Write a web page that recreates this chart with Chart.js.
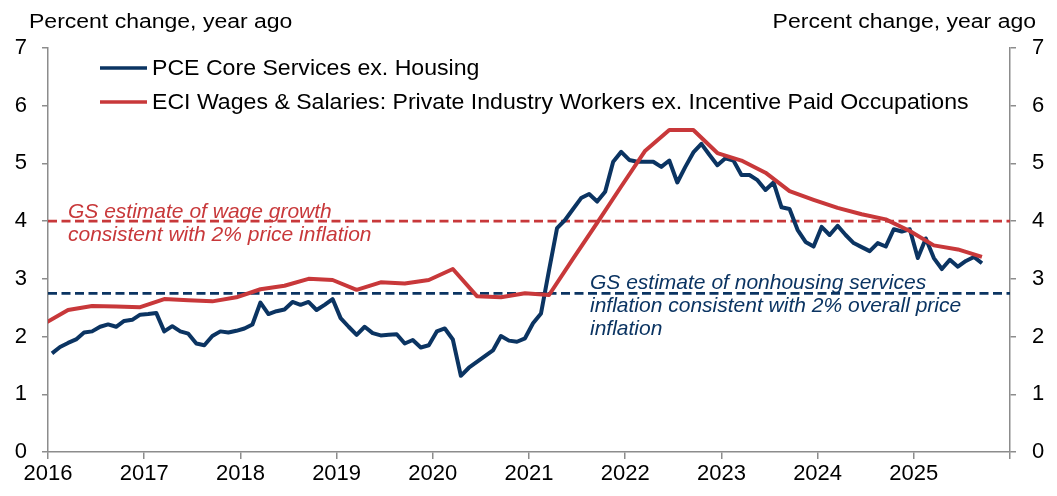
<!DOCTYPE html>
<html>
<head>
<meta charset="utf-8">
<script src="https://cdn.jsdelivr.net/npm/chart.js@4.4.1/dist/chart.umd.min.js"></script>
<style>
    html, body { margin: 0; padding: 0; background: #fff; }
    #wrap { width: 1057px; height: 496px; position: relative; }
</style>
</head>
<body>
<div id="wrap"><canvas id="inflationChart"></canvas></div>
<script>
// ===== DATOS =====
const startYear = 2016;
const yearTicks = [2016, 2017, 2018, 2019, 2020, 2021, 2022, 2023, 2024, 2025];

// PCE core services ex. housing, % yoy, monthly from Jan 2016
const pceCoreServices = [
    1.71, 1.82, 1.89, 1.95, 2.07, 2.09, 2.17, 2.21, 2.17, 2.27, 2.29, 2.38,
    2.39, 2.41, 2.09, 2.18, 2.09, 2.05, 1.88, 1.85, 2.01, 2.09, 2.07, 2.10,
    2.14, 2.21, 2.59, 2.39, 2.44, 2.47, 2.60, 2.55, 2.60, 2.46, 2.55, 2.65,
    2.32, 2.17, 2.03, 2.17, 2.06, 2.02, 2.03, 2.04, 1.88, 1.94, 1.81, 1.85,
    2.09, 2.14, 1.95, 1.32, 1.46, 1.56, 1.66, 1.76, 2.01, 1.93, 1.91, 1.97,
    2.23, 2.40, 3.15, 3.88, 4.02, 4.21, 4.40, 4.47, 4.34, 4.51, 5.03, 5.20,
    5.06, 5.03, 5.03, 5.03, 4.94, 5.05, 4.67, 4.94, 5.19, 5.34, 5.15, 4.97,
    5.09, 5.05, 4.80, 4.80, 4.71, 4.54, 4.67, 4.24, 4.21, 3.85, 3.64, 3.56,
    3.90, 3.76, 3.92, 3.76, 3.62, 3.55, 3.48, 3.62, 3.56, 3.86, 3.82, 3.86,
    3.36, 3.70, 3.36, 3.17, 3.33, 3.21, 3.31, 3.38, 3.27
];

// ECI wages & salaries, private ex. incentive paid, % yoy, quarterly from Dec 2015
const eciWages = [
    2.22, 2.46, 2.53, 2.52, 2.51, 2.65, 2.63, 2.61, 2.68, 2.82,
    2.88, 3.00, 2.98, 2.81, 2.94, 2.92, 2.98, 3.17, 2.70, 2.68,
    2.75, 2.72, 3.35, 3.97, 4.60, 5.22, 5.58, 5.58, 5.18, 5.05,
    4.84, 4.52, 4.37, 4.23, 4.12, 4.03, 3.83, 3.58, 3.51, 3.38
];

// GS estimates consistent with 2% inflation
const wageTarget = 4.0;
const servicesTarget = 2.75;

const FONT = "'Liberation Sans', Arial, sans-serif";
const NAVY = '#0b3462';
const RED = '#c8383a';
const AXIS_GREY = '#8c8c8c';

// mes -> posición en años (centrado en el mes)
function monthToX(m) {
    return startYear + (m + 0.5) / 12;
}

const pcePoints = pceCoreServices.map((v, i) => ({ x: monthToX(i), y: v }));
const eciPoints = eciWages.map((v, k) => ({ x: monthToX(-1 + 3 * k), y: v }));
const flat = (v) => [{ x: yearTicks[0], y: v }, { x: yearTicks[0] + 10, y: v }];

// texto ensanchado horizontalmente (sx = factor de ancho)
function wideText(ctx, txt, x, y, sx, align) {
    ctx.save();
    ctx.scale(sx, 1);
    ctx.textAlign = align || 'left';
    ctx.fillText(txt, x / sx, y);
    ctx.restore();
}

// ===== TEXTOS: títulos, leyenda y anotaciones =====
const textPlugin = {
    id: 'chartText',
    afterDraw(chart) {
        const ctx = chart.ctx;
        ctx.save();
        ctx.fillStyle = '#000';
        ctx.font = '20px ' + FONT;
        ctx.textBaseline = 'alphabetic';
        wideText(ctx, 'Percent change, year ago', 29, 28, 1.15, 'left');
        wideText(ctx, 'Percent change, year ago', 1036, 28, 1.15, 'right');

        // leyenda
        const items = chart.data.datasets
            .filter(d => d.legendRow !== undefined)
            .sort((a, b) => a.legendRow - b.legendRow);
        items.forEach((d) => {
            const y = 68 + d.legendRow * 34;
            ctx.strokeStyle = d.borderColor;
            ctx.lineWidth = 3.5;
            ctx.beginPath();
            ctx.moveTo(100, y);
            ctx.lineTo(147, y);
            ctx.stroke();
            ctx.fillStyle = '#000';
            ctx.textBaseline = 'middle';
            ctx.font = '22px ' + FONT;
            wideText(ctx, d.label, 152, y + 1, 1.05, 'left');
        });

        // anotaciones
        ctx.font = 'italic 21px ' + FONT;
        ctx.textBaseline = 'middle';
        ctx.textAlign = 'left';
        ctx.fillStyle = RED;
        ctx.fillText('GS estimate of wage growth', 68, 212);
        ctx.fillText('consistent with 2% price inflation', 68, 235);
        ctx.fillStyle = NAVY;
        ctx.fillText('GS estimate of nonhousing services', 590, 283);
        ctx.fillText('inflation consistent with 2% overall price', 590, 306);
        ctx.fillText('inflation', 590, 329);
        ctx.restore();
    }
};

const axisGrid = (len) => ({
    drawOnChartArea: false,
    drawTicks: true,
    tickLength: len,
    color: AXIS_GREY,
    lineWidth: 1.5
});
const axisBorder = { display: true, color: AXIS_GREY, width: 1.5 };
const tickFont = { family: FONT, size: 22 };

const ctx = document.getElementById('inflationChart');
new Chart(ctx, {
    type: 'line',
    data: {
        datasets: [
            {
                label: 'ECI Wages & Salaries: Private Industry Workers ex. Incentive Paid Occupations',
                data: eciPoints,
                borderColor: RED,
                borderWidth: 4,
                order: 0,
                legendRow: 1
            },
            {
                label: 'PCE Core Services ex. Housing',
                data: pcePoints,
                borderColor: NAVY,
                borderWidth: 4,
                order: 1,
                legendRow: 0
            },
            {
                label: 'wage target',
                data: flat(wageTarget),
                borderColor: RED,
                borderWidth: 2.7,
                borderDash: [9, 4.5],
                order: 2
            },
            {
                label: 'services target',
                data: flat(servicesTarget),
                borderColor: NAVY,
                borderWidth: 2.7,
                borderDash: [9, 4.5],
                order: 3
            }
        ]
    },
    options: {
        responsive: true,
        maintainAspectRatio: false,
        animation: false,
        elements: {
            point: { radius: 0 },
            line: { tension: 0, borderJoinStyle: 'round', borderCapStyle: 'butt', fill: false }
        },
        layout: { padding: { top: 48, left: 0, right: 0, bottom: 0 } },
        plugins: {
            legend: { display: false },
            tooltip: { enabled: false }
        },
        scales: {
            x: {
                type: 'linear',
                min: 2016,
                max: 2026,
                afterFit: (s) => { s.height = 44; },
                afterBuildTicks: (s) => { s.ticks = yearTicks.concat([2026]).map(v => ({ value: v })); },
                grid: axisGrid(7),
                border: axisBorder,
                ticks: {
                    color: '#000',
                    font: tickFont,
                    padding: 2,
                    maxRotation: 0,
                    autoSkip: false,
                    callback: (v) => (v < 2026 ? String(v) : '')
                }
            },
            y: {
                position: 'left',
                min: 0,
                max: 7,
                afterFit: (s) => { s.width = 48; },
                grid: axisGrid(6),
                border: axisBorder,
                ticks: { stepSize: 1, color: '#000', font: tickFont, padding: 15 }
            },
            y2: {
                position: 'right',
                min: 0,
                max: 7,
                afterFit: (s) => { s.width = 47; },
                grid: axisGrid(6),
                border: axisBorder,
                ticks: { stepSize: 1, color: '#000', font: tickFont, padding: 16 }
            }
        }
    },
    plugins: [textPlugin]
});
</script>
</body>
</html>
